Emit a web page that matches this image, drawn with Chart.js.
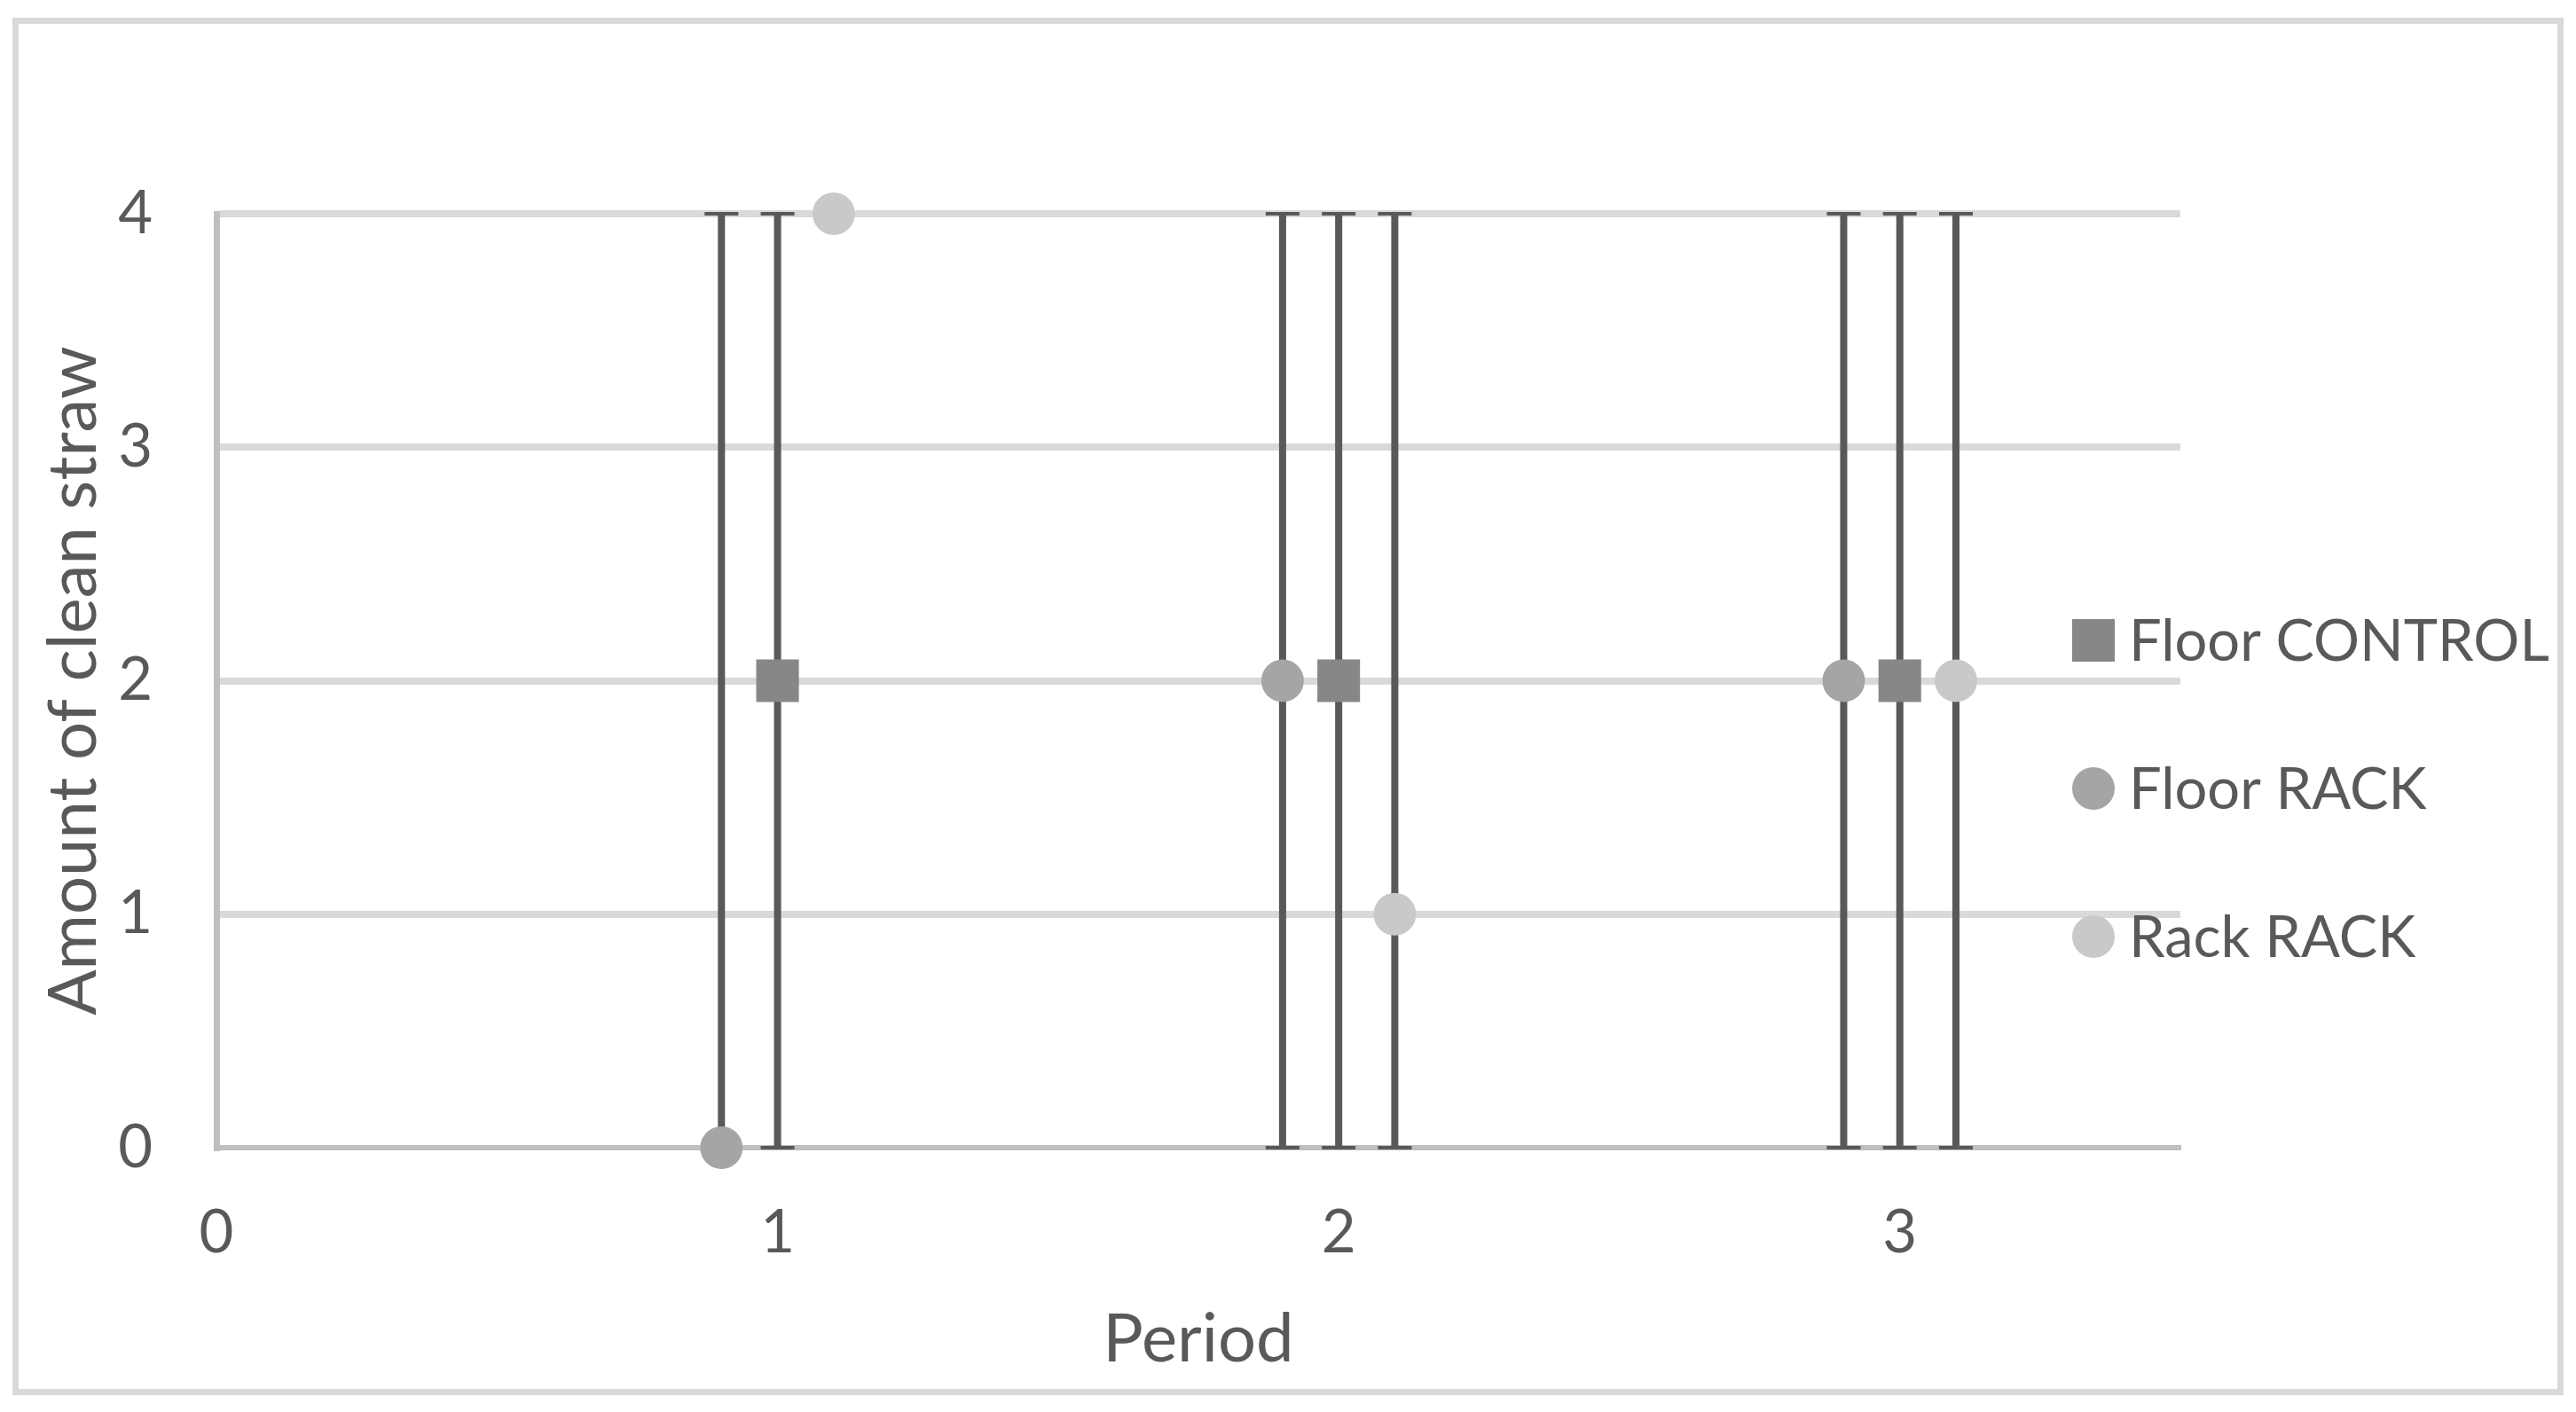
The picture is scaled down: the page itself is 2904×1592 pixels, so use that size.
<!DOCTYPE html>
<html>
<head>
<meta charset="utf-8">
<script src="https://cdn.jsdelivr.net/npm/chart.js@4.4.1/dist/chart.umd.min.js"></script>
<style>
  html, body { margin: 0; padding: 0; background: #fff; }
  #frame { position: absolute; left: 14px; top: 20px; width: 2876px; height: 1553px; border: 7px solid #d9d9d9; box-sizing: border-box; }
  #wrap { position: absolute; left: 0; top: 0; width: 2904px; height: 1592px; }
</style>
</head>
<body>
<div id="frame"></div>
<div id="wrap"><canvas id="straw_chart"></canvas></div>
<script>
// data
const series_names = ["Floor CONTROL", "Floor RACK", "Rack RACK"]
const series_colors = ["#878787", "#a5a5a5", "#c9c9c9"]
const series_shapes = ["rect", "circle", "circle"]

const floor_control_x = [1, 2, 3]
const floor_control_y = [2, 2, 2]
const floor_control_low = [0, 0, 0]
const floor_control_high = [4, 4, 4]

const floor_rack_x = [0.9, 1.9, 2.9]
const floor_rack_y = [0, 2, 2]
const floor_rack_low = [0, 0, 0]
const floor_rack_high = [4, 4, 4]

const rack_rack_x = [1.1, 2.1, 3.1]
const rack_rack_y = [4, 1, 2]
const rack_rack_low = [null, 0, 0]   // no bar on the first point
const rack_rack_high = [null, 4, 4]

const x_ticks = [0, 1, 2, 3]
const y_ticks = [0, 1, 2, 3, 4]

const text_color = "#595959"
const font_family = "Lato, 'Open Sans', sans-serif"

// turn x/y arrays into point objects
function make_points(xs, ys) {
  return xs.map((x, i) => ({ x: x, y: ys[i] }))
}

const all_x = [floor_control_x, floor_rack_x, rack_rack_x]
const all_y = [floor_control_y, floor_rack_y, rack_rack_y]
const all_low = [floor_control_low, floor_rack_low, rack_rack_low]
const all_high = [floor_control_high, floor_rack_high, rack_rack_high]

const datasets = series_names.map((name, i) => ({
  label: name,
  data: make_points(all_x[i], all_y[i]),
  err_low: all_low[i],
  err_high: all_high[i],
  pointStyle: series_shapes[i],
  pointRadius: series_shapes[i] == "rect" ? 34 : 24,
  pointHoverRadius: series_shapes[i] == "rect" ? 34 : 24,
  backgroundColor: series_colors[i],
  borderColor: series_colors[i],
  borderWidth: 0,
  showLine: false,
  clip: false
}))

// error bars, drawn under the markers
const error_bars = {
  id: "error_bars",
  beforeDatasetsDraw(chart) {
    const ctx = chart.ctx
    const xs = chart.scales.x
    const ys = chart.scales.y
    ctx.save()
    ctx.fillStyle = "#595959"
    chart.data.datasets.forEach(ds => {
      ds.data.forEach((p, i) => {
        if (ds.err_low[i] == null) return
        const px = xs.getPixelForValue(p.x)
        const top = ys.getPixelForValue(ds.err_high[i])
        const bot = ys.getPixelForValue(ds.err_low[i])
        ctx.fillRect(px - 4, top, 8, bot - top)
        ctx.fillRect(px - 19, top - 2, 38, 4)
        ctx.fillRect(px - 19, bot - 2, 38, 4)
      })
    })
    ctx.restore()
  }
}

// legend on the right, placed like the original
const side_legend = {
  id: "side_legend",
  afterDraw(chart) {
    const ctx = chart.ctx
    const rows = [722, 889, 1056]
    ctx.save()
    chart.data.datasets.forEach((ds, i) => {
      ctx.fillStyle = ds.backgroundColor
      ctx.beginPath()
      if (ds.pointStyle == "rect") {
        ctx.rect(2336, rows[i] - 24, 48, 48)
      } else {
        ctx.arc(2360, rows[i], 24, 0, Math.PI * 2)
      }
      ctx.fill()
      ctx.fillStyle = text_color
      ctx.font = "65px " + font_family
      ctx.textBaseline = "middle"
      ctx.textAlign = "left"
      ctx.fillText(ds.label, 2400, rows[i] + 2)
    })
    ctx.restore()
  }
}

const config = {
  type: "scatter",
  data: { datasets: datasets },
  plugins: [error_bars, side_legend],
  options: {
    responsive: true,
    maintainAspectRatio: false,
    devicePixelRatio: 1,
    animation: false,
    layout: { padding: { left: 0, top: 241, right: 446, bottom: 0 } },
    plugins: { legend: { display: false }, tooltip: { enabled: false } },
    scales: {
      x: {
        type: "linear",
        min: 0,
        max: 3.5,
        afterFit: s => { s.height = 298 },
        afterBuildTicks: s => { s.ticks = x_ticks.map(v => ({ value: v })) },
        grid: { display: false, drawTicks: false },
        border: { display: true, color: "#bfbfbf", width: 6 },
        ticks: { color: text_color, padding: 56, font: { family: font_family, size: 67 } },
        title: {
          display: true, text: "Period", color: text_color,
          font: { family: font_family, size: 76 },
          padding: { top: 0, bottom: 36 }
        }
      },
      y: {
        min: 0,
        max: 4,
        afterFit: s => { s.width = 244 },
        afterBuildTicks: s => { s.ticks = y_ticks.map(v => ({ value: v })) },
        grid: {
          drawTicks: false,
          lineWidth: 8,
          color: c => c.tick && c.tick.value == 0 ? "rgba(0,0,0,0)" : "#d9d9d9"
        },
        border: { display: true, color: "#bfbfbf", width: 7 },
        ticks: { color: text_color, padding: 72, font: { family: font_family, size: 67 } },
        title: {
          display: true, text: "Amount of clean straw", color: text_color,
          font: { family: font_family, size: 76 },
          padding: { top: 38, bottom: 0 }
        }
      }
    }
  }
}

const strawChart = new Chart(document.getElementById("straw_chart"), config)
</script>
</body>
</html>
